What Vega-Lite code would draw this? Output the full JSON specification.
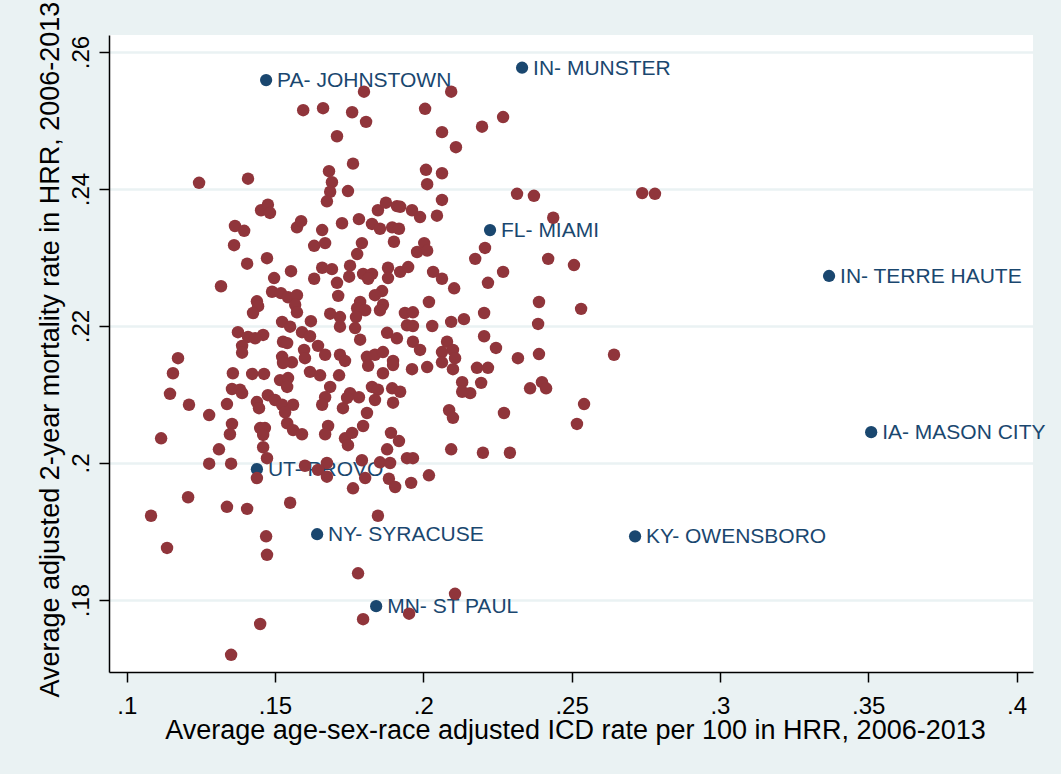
{
  "$schema": "https://vega.github.io/schema/vega-lite/v6.json",
  "width": 924,
  "height": 637,
  "autosize": {"type": "none"},
  "padding": {"left": 109, "top": 35, "right": 28, "bottom": 102},
  "background": "#EAF2F3",
  "config": {"view": {"stroke": null, "fill": "white"}, "font": "Liberation Sans"},
  "datasets": {
    "labeled": [
      {"icd": 0.1470, "mort": 0.2559, "name": "PA- JOHNSTOWN"},
      {"icd": 0.2333, "mort": 0.2577, "name": "IN- MUNSTER"},
      {"icd": 0.2225, "mort": 0.2340, "name": "FL- MIAMI"},
      {"icd": 0.3368, "mort": 0.2273, "name": "IN- TERRE HAUTE"},
      {"icd": 0.3510, "mort": 0.2045, "name": "IA- MASON CITY"},
      {"icd": 0.1439, "mort": 0.1991, "name": "UT- PROVO"},
      {"icd": 0.1642, "mort": 0.1896, "name": "NY- SYRACUSE"},
      {"icd": 0.2714, "mort": 0.1893, "name": "KY- OWENSBORO"},
      {"icd": 0.1841, "mort": 0.1791, "name": "MN- ST PAUL"}
    ],
    "hrr": [
      {"icd":0.1595,"mort":0.2515},{"icd":0.1244,"mort":0.2409},{"icd":0.1409,"mort":0.2415},{"icd":0.1453,"mort":0.2369},
      {"icd":0.1476,"mort":0.2377},{"icd":0.1483,"mort":0.2365},{"icd":0.1365,"mort":0.2346},{"icd":0.1396,"mort":0.2339},
      {"icd":0.1362,"mort":0.2318},{"icd":0.1406,"mort":0.2291},{"icd":0.1473,"mort":0.2299},{"icd":0.1574,"mort":0.2344},
      {"icd":0.1588,"mort":0.2353},{"icd":0.1632,"mort":0.2317},{"icd":0.1554,"mort":0.2280},{"icd":0.1497,"mort":0.2270},
      {"icd":0.1632,"mort":0.2269},{"icd":0.1318,"mort":0.2258},{"icd":0.1490,"mort":0.2250},{"icd":0.1520,"mort":0.2248},
      {"icd":0.1544,"mort":0.2242},{"icd":0.1574,"mort":0.2245},{"icd":0.1568,"mort":0.2231},{"icd":0.1439,"mort":0.2236},
      {"icd":0.1443,"mort":0.2229},{"icd":0.1426,"mort":0.2219},{"icd":0.1574,"mort":0.2220},{"icd":0.1524,"mort":0.2206},
      {"icd":0.1551,"mort":0.2199},{"icd":0.1621,"mort":0.2207},{"icd":0.1591,"mort":0.2191},{"icd":0.1618,"mort":0.2185},
      {"icd":0.1375,"mort":0.2191},{"icd":0.1409,"mort":0.2184},{"icd":0.1460,"mort":0.2187},{"icd":0.1433,"mort":0.2182},
      {"icd":0.1389,"mort":0.2171},{"icd":0.1389,"mort":0.2161},{"icd":0.1527,"mort":0.2177},{"icd":0.1541,"mort":0.2175},
      {"icd":0.1598,"mort":0.2165},{"icd":0.1601,"mort":0.2153},{"icd":0.1173,"mort":0.2153},{"icd":0.1524,"mort":0.2155},
      {"icd":0.1557,"mort":0.2147},{"icd":0.1527,"mort":0.2146},{"icd":0.1156,"mort":0.2131},{"icd":0.1146,"mort":0.2101},
      {"icd":0.1210,"mort":0.2085},{"icd":0.1278,"mort":0.2070},{"icd":0.1338,"mort":0.2086},{"icd":0.1358,"mort":0.2131},
      {"icd":0.1423,"mort":0.2130},{"icd":0.1463,"mort":0.2130},{"icd":0.1355,"mort":0.2108},{"icd":0.1382,"mort":0.2107},
      {"icd":0.1389,"mort":0.2102},{"icd":0.1517,"mort":0.2121},{"icd":0.1544,"mort":0.2124},{"icd":0.1541,"mort":0.2111},
      {"icd":0.1618,"mort":0.2133},{"icd":0.1439,"mort":0.2089},{"icd":0.1446,"mort":0.2080},{"icd":0.1476,"mort":0.2099},
      {"icd":0.1500,"mort":0.2092},{"icd":0.1524,"mort":0.2085},{"icd":0.1561,"mort":0.2085},{"icd":0.1534,"mort":0.2074},
      {"icd":0.1355,"mort":0.2057},{"icd":0.1348,"mort":0.2042},{"icd":0.1450,"mort":0.2051},{"icd":0.1466,"mort":0.2051},
      {"icd":0.1460,"mort":0.2041},{"icd":0.1541,"mort":0.2058},{"icd":0.1561,"mort":0.2048},{"icd":0.1591,"mort":0.2042},
      {"icd":0.1116,"mort":0.2036},{"icd":0.1311,"mort":0.2020},{"icd":0.1460,"mort":0.2023},{"icd":0.1473,"mort":0.2007},
      {"icd":0.1278,"mort":0.1999},{"icd":0.1352,"mort":0.1999},{"icd":0.1601,"mort":0.1996},{"icd":0.1439,"mort":0.1978},
      {"icd":0.1207,"mort":0.1950},{"icd":0.1082,"mort":0.1923},{"icd":0.1338,"mort":0.1936},{"icd":0.1406,"mort":0.1933},
      {"icd":0.1551,"mort":0.1942},{"icd":0.1136,"mort":0.1876},{"icd":0.1470,"mort":0.1893},{"icd":0.1473,"mort":0.1866},
      {"icd":0.1450,"mort":0.1765},{"icd":0.1352,"mort":0.1720},
      {"icd":0.1800,"mort":0.2542},{"icd":0.2094,"mort":0.2542},{"icd":0.1662,"mort":0.2518},{"icd":0.1760,"mort":0.2512},
      {"icd":0.1807,"mort":0.2498},{"icd":0.2006,"mort":0.2517},{"icd":0.1709,"mort":0.2477},{"icd":0.2063,"mort":0.2483},
      {"icd":0.2198,"mort":0.2491},{"icd":0.2110,"mort":0.2461},{"icd":0.1763,"mort":0.2437},{"icd":0.1682,"mort":0.2426},
      {"icd":0.1692,"mort":0.2410},{"icd":0.1686,"mort":0.2396},{"icd":0.1675,"mort":0.2382},{"icd":0.1746,"mort":0.2397},
      {"icd":0.2009,"mort":0.2428},{"icd":0.2063,"mort":0.2423},{"icd":0.2013,"mort":0.2407},{"icd":0.2063,"mort":0.2384},
      {"icd":0.1847,"mort":0.2369},{"icd":0.1874,"mort":0.2380},{"icd":0.1911,"mort":0.2375},{"icd":0.1922,"mort":0.2374},
      {"icd":0.1962,"mort":0.2369},{"icd":0.1989,"mort":0.2359},{"icd":0.2046,"mort":0.2361},{"icd":0.1726,"mort":0.2350},
      {"icd":0.1783,"mort":0.2356},{"icd":0.1827,"mort":0.2349},{"icd":0.1854,"mort":0.2342},{"icd":0.1895,"mort":0.2344},
      {"icd":0.1918,"mort":0.2342},{"icd":0.1901,"mort":0.2323},{"icd":0.1659,"mort":0.2340},{"icd":0.1669,"mort":0.2321},
      {"icd":0.1793,"mort":0.2321},{"icd":0.1777,"mort":0.2305},{"icd":0.1979,"mort":0.2308},{"icd":0.2003,"mort":0.2321},
      {"icd":0.2013,"mort":0.2310},{"icd":0.2175,"mort":0.2298},{"icd":0.2208,"mort":0.2314},{"icd":0.1659,"mort":0.2285},
      {"icd":0.1692,"mort":0.2283},{"icd":0.1753,"mort":0.2288},{"icd":0.1750,"mort":0.2272},{"icd":0.1709,"mort":0.2263},
      {"icd":0.1713,"mort":0.2244},{"icd":0.1797,"mort":0.2276},{"icd":0.1827,"mort":0.2276},{"icd":0.1814,"mort":0.2269},
      {"icd":0.1881,"mort":0.2285},{"icd":0.1881,"mort":0.2270},{"icd":0.1922,"mort":0.2279},{"icd":0.1949,"mort":0.2286},
      {"icd":0.2033,"mort":0.2279},{"icd":0.2063,"mort":0.2269},{"icd":0.2104,"mort":0.2255},{"icd":0.2218,"mort":0.2263},
      {"icd":0.1861,"mort":0.2251},{"icd":0.1837,"mort":0.2245},{"icd":0.1787,"mort":0.2235},{"icd":0.1777,"mort":0.2226},
      {"icd":0.1804,"mort":0.2223},{"icd":0.1864,"mort":0.2231},{"icd":0.1854,"mort":0.2223},{"icd":0.1773,"mort":0.2213},
      {"icd":0.1770,"mort":0.2197},{"icd":0.1787,"mort":0.2180},{"icd":0.1686,"mort":0.2218},{"icd":0.1719,"mort":0.2213},
      {"icd":0.1719,"mort":0.2199},{"icd":0.1938,"mort":0.2219},{"icd":0.1965,"mort":0.2220},{"icd":0.1945,"mort":0.2201},
      {"icd":0.1965,"mort":0.2200},{"icd":0.2019,"mort":0.2235},{"icd":0.2030,"mort":0.2200},{"icd":0.2094,"mort":0.2206},
      {"icd":0.2137,"mort":0.2210},{"icd":0.2205,"mort":0.2219},{"icd":0.2205,"mort":0.2185},{"icd":0.1878,"mort":0.2190},
      {"icd":0.1911,"mort":0.2182},{"icd":0.1965,"mort":0.2177},{"icd":0.1989,"mort":0.2165},{"icd":0.2080,"mort":0.2177},
      {"icd":0.2100,"mort":0.2165},{"icd":0.2063,"mort":0.2162},{"icd":0.2107,"mort":0.2153},{"icd":0.1645,"mort":0.2171},
      {"icd":0.1669,"mort":0.2158},{"icd":0.1719,"mort":0.2158},{"icd":0.1736,"mort":0.2149},{"icd":0.1810,"mort":0.2155},
      {"icd":0.1837,"mort":0.2158},{"icd":0.1864,"mort":0.2162},{"icd":0.1898,"mort":0.2149},{"icd":0.1814,"mort":0.2142},
      {"icd":0.1898,"mort":0.2143},{"icd":0.1962,"mort":0.2137},{"icd":0.2013,"mort":0.2140},{"icd":0.2063,"mort":0.2147},
      {"icd":0.2100,"mort":0.2137},{"icd":0.2181,"mort":0.2139},{"icd":0.1652,"mort":0.2128},{"icd":0.1716,"mort":0.2128},
      {"icd":0.1864,"mort":0.2131},{"icd":0.2131,"mort":0.2118},{"icd":0.2195,"mort":0.2117},{"icd":0.2158,"mort":0.2102},
      {"icd":0.2131,"mort":0.2104},{"icd":0.1686,"mort":0.2111},{"icd":0.1669,"mort":0.2096},{"icd":0.1659,"mort":0.2085},
      {"icd":0.1729,"mort":0.2080},{"icd":0.1753,"mort":0.2102},{"icd":0.1783,"mort":0.2096},{"icd":0.1743,"mort":0.2095},
      {"icd":0.1827,"mort":0.2111},{"icd":0.1847,"mort":0.2107},{"icd":0.1837,"mort":0.2092},{"icd":0.1895,"mort":0.2109},
      {"icd":0.1922,"mort":0.2104},{"icd":0.1898,"mort":0.2088},{"icd":0.1810,"mort":0.2073},{"icd":0.1797,"mort":0.2054},
      {"icd":0.1679,"mort":0.2054},{"icd":0.1669,"mort":0.2042},{"icd":0.1736,"mort":0.2036},{"icd":0.1760,"mort":0.2044},
      {"icd":0.1746,"mort":0.2026},{"icd":0.2087,"mort":0.2077},{"icd":0.2100,"mort":0.2066},{"icd":0.1891,"mort":0.2044},
      {"icd":0.1918,"mort":0.2032},{"icd":0.1878,"mort":0.2020},{"icd":0.2094,"mort":0.2020},{"icd":0.2201,"mort":0.2015},
      {"icd":0.1793,"mort":0.2004},{"icd":0.1854,"mort":0.2001},{"icd":0.1888,"mort":0.2000},{"icd":0.1945,"mort":0.2007},
      {"icd":0.1965,"mort":0.2007},{"icd":0.1675,"mort":0.2000},{"icd":0.1645,"mort":0.1990},{"icd":0.1675,"mort":0.1980},
      {"icd":0.1804,"mort":0.1978},{"icd":0.1763,"mort":0.1963},{"icd":0.1884,"mort":0.1977},{"icd":0.1905,"mort":0.1965},
      {"icd":0.1959,"mort":0.1971},{"icd":0.2019,"mort":0.1982},{"icd":0.1847,"mort":0.1923},{"icd":0.1780,"mort":0.1839},
      {"icd":0.2107,"mort":0.1809},{"icd":0.1797,"mort":0.1772},{"icd":0.1952,"mort":0.1780},
      {"icd":0.2269,"mort":0.2505},{"icd":0.2316,"mort":0.2393},{"icd":0.2373,"mort":0.2390},{"icd":0.2738,"mort":0.2394},
      {"icd":0.2781,"mort":0.2393},{"icd":0.2438,"mort":0.2358},{"icd":0.2421,"mort":0.2298},{"icd":0.2508,"mort":0.2289},
      {"icd":0.2269,"mort":0.2279},{"icd":0.2390,"mort":0.2235},{"icd":0.2532,"mort":0.2225},{"icd":0.2387,"mort":0.2203},
      {"icd":0.2245,"mort":0.2168},{"icd":0.2319,"mort":0.2153},{"icd":0.2390,"mort":0.2159},{"icd":0.2643,"mort":0.2158},
      {"icd":0.2218,"mort":0.2139},{"icd":0.2360,"mort":0.2109},{"icd":0.2400,"mort":0.2118},{"icd":0.2414,"mort":0.2109},
      {"icd":0.2542,"mort":0.2086},{"icd":0.2518,"mort":0.2057},{"icd":0.2272,"mort":0.2073},{"icd":0.2292,"mort":0.2015}
    ]
  },
  "encoding": {
    "x": {
      "field": "icd", "type": "quantitative",
      "scale": {"domain": [0.09403, 0.40556], "nice": false, "zero": false},
      "axis": {
        "values": [0.1, 0.15, 0.2, 0.25, 0.3, 0.35, 0.4],
        "labelExpr": "substring(format(datum.value, '~g'), 1)",
        "grid": false,
        "title": "Average age-sex-race adjusted ICD rate per 100 in HRR, 2006-2013",
        "titleFont": "Liberation Sans", "titleFontSize": 27, "titleFontWeight": "normal", "titleColor": "black",
        "titleX": 466, "titleY": 66, "titleAlign": "center", "titleBaseline": "alphabetic",
        "labelFont": "Liberation Sans", "labelFontSize": 24, "labelColor": "black",
        "labelBaseline": "alphabetic", "labelPadding": 31, "labelFlush": false, "labelOverlap": false,
        "tickSize": 10, "tickColor": "black", "tickWidth": 1.5,
        "domainColor": "black", "domainWidth": 1.5
      }
    },
    "y": {
      "field": "mort", "type": "quantitative",
      "scale": {"domain": [0.16949, 0.26248], "nice": false, "zero": false},
      "axis": {
        "values": [0.18, 0.2, 0.22, 0.24, 0.26],
        "labelExpr": "substring(format(datum.value, '~g'), 1)",
        "grid": true, "gridColor": "#EAF2F3", "gridWidth": 2.5,
        "title": "Average adjusted 2-year mortality rate in HRR, 2006-2013",
        "titleFont": "Liberation Sans", "titleFontSize": 27, "titleFontWeight": "normal", "titleColor": "black",
        "titleAngle": 270, "titleX": -51, "titleY": 662, "titleAlign": "left", "titleBaseline": "alphabetic",
        "labelFont": "Liberation Sans", "labelFontSize": 24, "labelColor": "black",
        "labelAngle": 270, "labelAlign": "center", "labelBaseline": "alphabetic", "labelPadding": 11,
        "labelFlush": false, "labelOverlap": false,
        "tickSize": 10, "tickColor": "black", "tickWidth": 1.5,
        "domainColor": "black", "domainWidth": 1.5
      }
    }
  },
  "layer": [
    {
      "data": {"name": "labeled"},
      "mark": {"type": "circle", "size": 150, "opacity": 1, "color": "#1A476F"}
    },
    {
      "data": {"name": "labeled"},
      "mark": {"type": "text", "align": "left", "baseline": "middle", "dx": 11, "dy": 1, "fontSize": 21, "font": "Liberation Sans", "color": "#1A476F"},
      "encoding": {"text": {"field": "name"}}
    },
    {
      "data": {"name": "hrr"},
      "mark": {"type": "circle", "size": 155, "opacity": 1, "color": "#90353B"}
    }
  ]
}
